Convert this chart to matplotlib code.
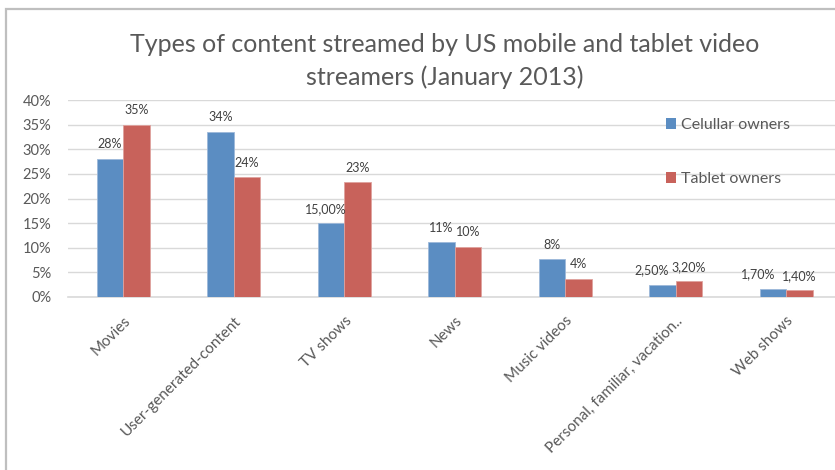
import matplotlib
matplotlib.use("Agg")
import matplotlib.pyplot as plt
import matplotlib.transforms as mtransforms
from matplotlib.patches import Rectangle, Patch
import numpy as np

# Data
categories = ["Movies", "User-generated-content", "TV shows", "News",
              "Music videos", "Personal, familiar, vacation..", "Web shows"]
cellular = [28.1, 33.6, 15.0, 11.1, 7.7, 2.5, 1.7]
tablet = [35.0, 24.3, 23.3, 10.2, 3.7, 3.2, 1.4]
# decimals shown in each data label
cellular_decimals = [0, 0, 2, 0, 0, 2, 2]
tablet_decimals = [0, 0, 0, 0, 0, 2, 2]
series_names = ["Celullar owners", "Tablet owners"]
y_ticks = [0, 5, 10, 15, 20, 25, 30, 35, 40]

FONT = ["Lato", "DejaVu Sans"]
plt.rcParams["font.family"] = FONT

W, H = 835, 470
fig = plt.figure(figsize=(W / 100, H / 100), dpi=100)
fig.patch.set_facecolor("white")

# chart frame
fig.patches.append(Rectangle((6 / W, -0.1), 1.2, (H - 9) / H + 0.1,
                             transform=fig.transFigure, fill=False,
                             edgecolor="#BFBFBF", linewidth=1.6))

left_px, right_px = 68, 835
bottom_px, top_px = 297, 100
ax = fig.add_axes([left_px / W, (H - bottom_px) / H,
                   (right_px - left_px) / W, (bottom_px - top_px) / H])
cat_w = 110.5
ax.set_xlim(-0.5, -0.5 + (right_px - left_px) / cat_w)
ax.set_ylim(0, 40)

blue = "#5B8DC2"
red = "#C8625B"
text_col = "#595959"
label_col = "#404040"

x = np.arange(len(categories))
bw = 0.24
b1 = ax.bar(x - bw / 2, cellular, bw, color=blue, edgecolor="#9DB8DA",
            linewidth=0.6, zorder=3)
b2 = ax.bar(x + bw / 2, tablet, bw, color=red, edgecolor="#DFA29E",
            linewidth=0.6, zorder=3)

# horizontal shift (px) for labels that would otherwise collide
cell_nudge = [0, 0, -5, 0, 0, -11, -15]


def fmt(v, d):
    return f"{v:.{d}f}%".replace(".", ",")


for i, (bar, v, d) in enumerate(zip(b1, cellular, cellular_decimals)):
    ax.annotate(fmt(v, d), (bar.get_x() + bar.get_width() / 2, v),
                xytext=(cell_nudge[i] * 0.72, 6), textcoords="offset points",
                ha="center", va="bottom", fontsize=9, color=label_col)
for bar, v, d in zip(b2, tablet, tablet_decimals):
    ax.annotate(fmt(v, d), (bar.get_x() + bar.get_width() / 2, v),
                xytext=(0, 6), textcoords="offset points",
                ha="center", va="bottom", fontsize=9, color=label_col)

ax.set_yticks(y_ticks)
ax.set_yticklabels([f"{t}%" for t in y_ticks], fontsize=10.5, color=text_col)
ax.yaxis.grid(True, color="#D9D9D9", linewidth=1, zorder=0)
ax.set_axisbelow(True)
ax.set_xticks(x)
ax.set_xticklabels(categories, rotation=45, ha="right",
                   rotation_mode="anchor", va="top",
                   fontsize=11, color=text_col)
shift = mtransforms.ScaledTranslation(4 / 100, 0, fig.dpi_scale_trans)
for lbl in ax.get_xticklabels():
    lbl.set_transform(lbl.get_transform() + shift)
ax.tick_params(axis="both", length=0)
ax.tick_params(axis="y", pad=12)
ax.tick_params(axis="x", pad=12)
for s in ["top", "right", "left"]:
    ax.spines[s].set_visible(False)
ax.spines["bottom"].set_color("#D9D9D9")
ax.spines["bottom"].set_linewidth(1.2)

fig.text(445 / W, (H - 61) / H,
         "Types of content streamed by US mobile and tablet video\nstreamers (January 2013)",
         ha="center", va="center", fontsize=18, color=text_col,
         linespacing=1.5)

handles = [Patch(facecolor=blue), Patch(facecolor=red)]
fig.legend(handles, series_names, loc="upper left",
           bbox_to_anchor=(666 / W, (H - 118) / H), frameon=False,
           fontsize=11.5, labelcolor=text_col, handlelength=0.65,
           handleheight=0.65, handletextpad=0.3, labelspacing=2.5,
           borderpad=0, borderaxespad=0)

fig.savefig("out.png", dpi=100, facecolor="white")
